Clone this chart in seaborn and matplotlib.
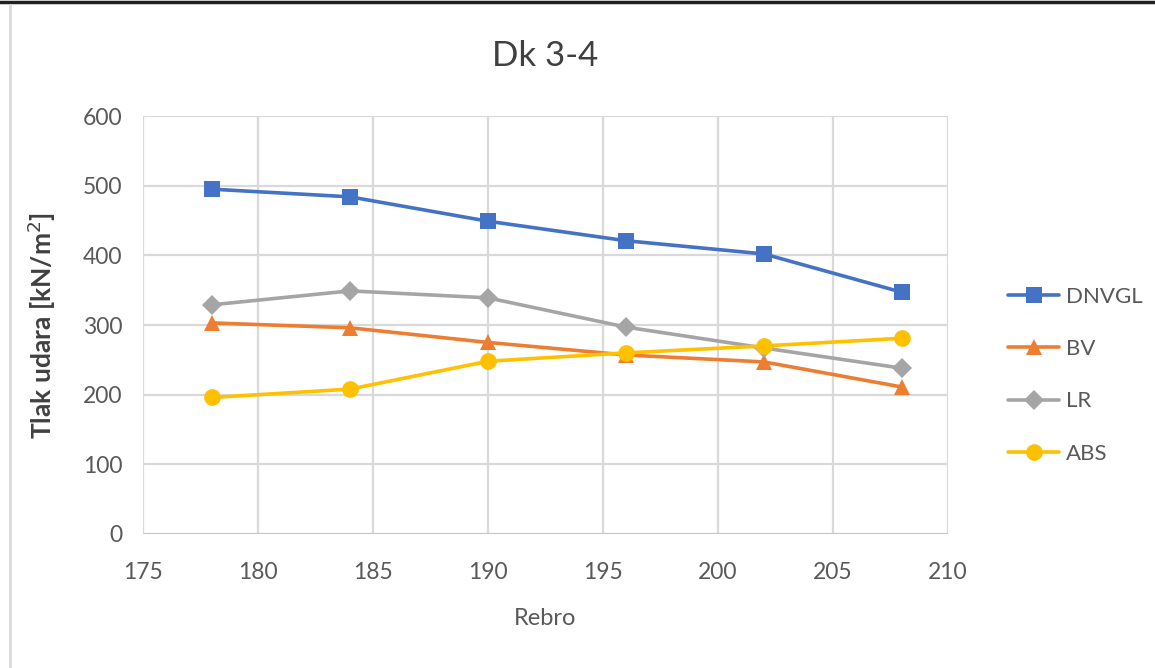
import pandas as pd
import numpy as np
import matplotlib.pyplot as plt
import seaborn as sns
from matplotlib.lines import Line2D

# data
rebro = [178, 184, 190, 196, 202, 208]
dnvgl = [495, 484, 449, 421, 402, 347]
bv = [303, 296, 275, 257, 247, 211]
lr = [329, 349, 339, 297, 267, 238]
abs_ = [196, 208, 248, 260, 270, 281]

series = ["DNVGL", "BV", "LR", "ABS"]
colors = ["#4472C4", "#ED7D31", "#A5A5A5", "#FFC000"]
markers = ["s", "^", "D", "o"]
msizes = [11, 12, 10, 12]

df = pd.DataFrame({"Rebro": rebro, "DNVGL": dnvgl, "BV": bv, "LR": lr, "ABS": abs_})
long_df = df.melt(id_vars="Rebro", var_name="norma", value_name="tlak")

sns.set_theme(style="white")
plt.rcParams["font.family"] = ["Lato", "DejaVu Sans"]

fig = plt.figure(figsize=(11.55, 6.68), dpi=100)
ax = fig.add_axes([0.1238, 0.2006, 0.697, 0.6257])

for name, c, m, ms in zip(series, colors, markers, msizes):
    sub = long_df[long_df["norma"] == name]
    sns.lineplot(data=sub, x="Rebro", y="tlak", ax=ax, color=c, marker=m,
                 markersize=ms, markeredgewidth=0, linewidth=2.6, label=name)

ax.set_xlim(175, 210)
ax.set_ylim(0, 600)
ax.set_xticks(np.arange(175, 211, 5))
ax.set_yticks(np.arange(0, 601, 100))
ax.grid(True, color="#d9d9d9", linewidth=1.6)
ax.set_axisbelow(True)
for s in ax.spines.values():
    s.set_visible(False)
ax.axhline(0, color="#bfbfbf", linewidth=1.8, zorder=1)
ax.tick_params(axis="both", labelsize=16.5, colors="#595959", length=0)
ax.tick_params(axis="x", pad=20)
ax.tick_params(axis="y", pad=15)

ax.set_title("Dk 3-4", fontsize=25, color="#404040", pad=36)
ax.set_xlabel("Rebro", fontsize=17, color="#595959", labelpad=18)
ax.set_ylabel("Tlak udara [kN/m$^2$]", fontsize=19, color="#404040",
              fontweight="bold", labelpad=18)

leg = ax.legend(loc="center left", bbox_to_anchor=(1.05, 0.38), frameon=False,
                fontsize=16, labelcolor="#595959", handlelength=2.3,
                labelspacing=1.45, handletextpad=0.3)

# frame decoration of the original screenshot
fig.add_artist(Line2D([0, 1], [0.997, 0.997], color="#202020", linewidth=2.5))
fig.add_artist(Line2D([0.0085, 0.0085], [0, 0.993], color="#d9d9d9", linewidth=2))

fig.savefig("out.png", dpi=100)
